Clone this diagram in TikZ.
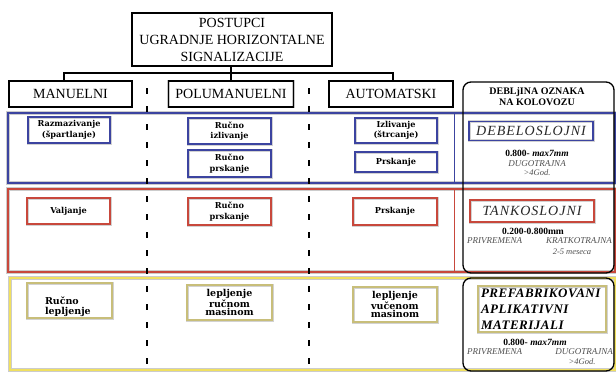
\documentclass[tikz,border=0pt]{standalone}
\usepackage{fontspec}
\setmainfont{Liberation Serif}
\newfontfamily\cent{DejaVu Serif}
\newfontfamily\itsp{Liberation Serif}[LetterSpace=7]
\newfontfamily\bisp{Liberation Serif}[LetterSpace=4]
\definecolor{rbl}{HTML}{3C44A0}
\definecolor{rrd}{HTML}{C8483C}
\definecolor{ryl}{HTML}{F0E060}
\definecolor{ykh}{HTML}{C8BE7A}
\definecolor{gtx}{HTML}{505050}
\tikzset{
  hdr/.style={draw, line width=1.3pt, inner sep=0pt, align=center, font=\fontsize{14}{17}\selectfont, preaction={draw=gray!45, line width=2.6pt}},
  bbox/.style={draw=rbl, line width=1.5pt, inner sep=0pt, align=center, preaction={draw=gray!35, line width=3pt}},
  rbox/.style={draw=rrd, line width=1.5pt, inner sep=0pt, align=center, preaction={draw=gray!35, line width=3pt}},
  ybox/.style={draw=ykh, line width=1.5pt, inner sep=0pt, align=center, preaction={draw=gray!35, line width=3pt}},
  sm/.style={font=\cent\bfseries\fontsize{8.2}{10.5}\selectfont},
  yt/.style={font=\cent\bfseries\fontsize{9.5}{8.3}\selectfont},
  info/.style={inner sep=0pt, font=\fontsize{9.5}{11}\selectfont},
  gi/.style={inner sep=0pt, text=gtx, font=\itshape\fontsize{9}{11}\selectfont},
  region/.style={line width=2.4pt, preaction={draw=gray!40, line width=3.8pt}},
  blk/.style={draw, line width=1.3pt, rounded corners=8pt},
  sep/.style={line width=2.6pt, dash pattern=on 6pt off 12pt},
  conn/.style={line width=1.2pt}
}
\begin{document}
\begin{tikzpicture}[x=1pt,y=-1pt]
\useasboundingbox (0,0) rectangle (616,372);
\fill[white] (0,0) rectangle (616,372);

% regions
\draw[region, draw=rbl] (8,113) rectangle (615,183);
\draw[rbl, line width=1pt] (454,113) -- (454,183);
\draw[region, draw=rrd] (8,189) rectangle (615,272);
\draw[rrd, line width=1pt] (454,189) -- (454,272);
\draw[region, draw=ryl] (10,278) rectangle (615,370);

% separators
\draw[sep] (147,88) -- (147,364);
\draw[sep] (309,88) -- (309,364);

% headers
\node[hdr, minimum width=200pt, minimum height=53pt] (top) at (232,39.5) {POSTUPCI\\UGRADNJE HORIZONTALNE\\SIGNALIZACIJE};
\node[hdr, minimum width=123pt, minimum height=26pt] (man) at (70.5,94) {MANUELNI};
\node[hdr, minimum width=125pt, minimum height=26pt] (pol) at (231,94) {POLUMANUELNI};
\node[hdr, minimum width=124pt, minimum height=26pt] (aut) at (391,94) {AUTOMATSKI};
\coordinate (j1) at (64,73);
\coordinate (j2) at (393,73);
\draw[conn] (top.south -| pol.north) -- (pol.north);
\draw[conn] (man.north -| j1) -- (j1) -- (j2) -- (aut.north -| j2);

% black rounded boxes
\draw[blk] (463,82) rectangle (614,273);
\draw[blk] (463,278) rectangle (614,371);
\node[align=center, inner sep=0pt, font=\bfseries\fontsize{10}{11}\selectfont] (deb) at (537,97) {DEBLjINA OZNAKA\\NA KOLOVOZU};

% blue row
\node[bbox, sm, minimum width=82pt, minimum height=26pt] (raz) at (69,130) {Razmazivanje\\(špartlanje)};
\node[bbox, sm, minimum width=83pt, minimum height=26pt] (rizl) at (229.5,131) {Ručno\\izlivanje};
\node[bbox, sm, minimum width=83pt, minimum height=27pt] (rprs) at (229.5,163.5) {Ručno\\prskanje};
\node[bbox, sm, minimum width=82pt, minimum height=25pt] (izl) at (396,130.5) {Izlivanje\\(štrcanje)};
\node[bbox, sm, minimum width=82pt, minimum height=20pt] (prs) at (396,162) {Prskanje};
\node[bbox, minimum width=124pt, minimum height=19pt, text=black!85, font=\itsp\itshape\fontsize{14}{14}\selectfont] (debs) at (531,131) {DEBELOSLOJNI};
\node[info] (d1) at (537,153) {\bfseries 0.800- \textit{max7mm}};
\node[gi] (d2) at (537,163.5) {DUGOTRAJNA};
\node[gi, font=\itshape\fontsize{8.5}{10}\selectfont] (d3) at (537,173) {>4God.};

% red row
\node[rbox, sm, minimum width=83pt, minimum height=26pt] (val) at (68.5,211) {Valjanje};
\node[rbox, sm, minimum width=83pt, minimum height=27pt] (rprs2) at (229.5,211.5) {Ručno\\prskanje};
\node[rbox, sm, minimum width=84pt, minimum height=27pt] (prs2) at (395,211.5) {Prskanje};
\node[rbox, minimum width=124pt, minimum height=22pt, text=black!85, font=\itsp\itshape\fontsize{14}{14}\selectfont] (tank) at (532,211) {TANKOSLOJNI};
\node[info] (t1) at (533,231) {\bfseries 0.200-0.800mm};
\node[gi, anchor=west] (t2) at (467,241) {PRIVREMENA};
\node[gi, anchor=east] (t3) at (612,241) {KRATKOTRAJNA};
\node[gi, font=\itshape\fontsize{8.5}{10}\selectfont] (t4) at (572,252) {2-5 meseca};

% yellow row
\node[ybox, yt, align=left, minimum width=85pt, minimum height=35pt, text width=85pt, text depth=0pt] (rlep) at (69.5,300.5) {\hspace*{18pt}Ručno\\[2pt]\hspace*{18pt}lepljenje};
\node[ybox, yt, minimum width=85pt, minimum height=35pt] (lrm) at (229.5,302.5) {lepljenje\\ručnom\\masinom};
\node[ybox, yt, minimum width=84pt, minimum height=35pt] (lvm) at (395,304.5) {lepljenje\\vučenom\\masinom};
\node[ybox, align=left, minimum width=128pt, minimum height=46pt, text width=122pt, font=\bisp\bfseries\itshape\fontsize{13}{16}\selectfont] (pref) at (542,309) {PREFABRIKOVANI\\APLIKATIVNI\\MATERIJALI};
\node[info] (p1) at (535,342) {\bfseries 0.800- \textit{max7mm}};
\node[gi, anchor=west] (p2) at (467,352) {PRIVREMENA};
\node[gi, anchor=east] (p3) at (613,352) {DUGOTRAJNA};
\node[gi, font=\itshape\fontsize{8.5}{10}\selectfont] (p4) at (582,362) {>4God.};
\end{tikzpicture}
\end{document}
